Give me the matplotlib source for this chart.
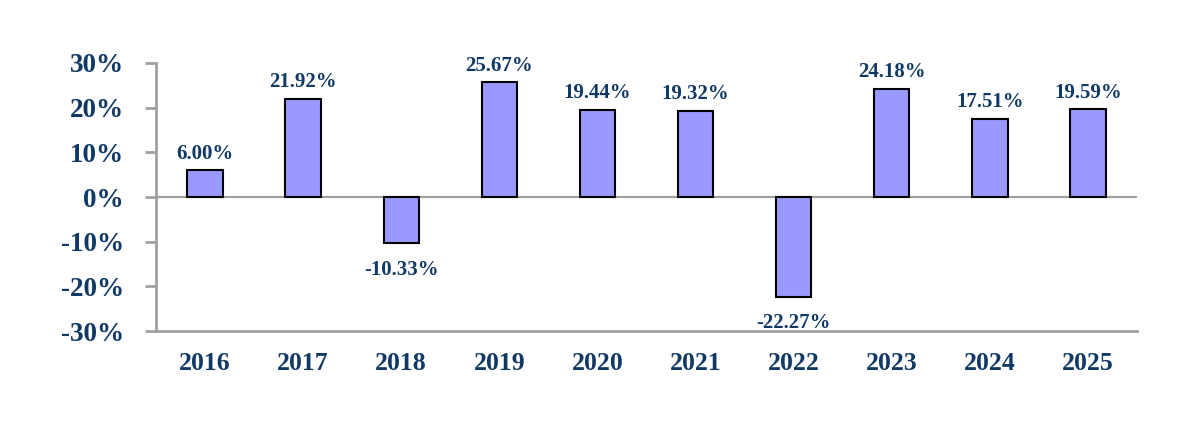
import matplotlib
matplotlib.use("Agg")
import matplotlib.pyplot as plt
from matplotlib.ticker import FuncFormatter

years = ["2016", "2017", "2018", "2019", "2020", "2021", "2022", "2023", "2024", "2025"]
returns = [6.00, 21.92, -10.33, 25.67, 19.44, 19.32, -22.27, 24.18, 17.51, 19.59]
yticks = [-30, -20, -10, 0, 10, 20, 30]

plt.rcParams['font.family'] = ['Liberation Serif', 'DejaVu Serif']
plt.rcParams['font.weight'] = 'bold'
navy = '#103A65'
gray = '#A0A0A0'

fig = plt.figure(figsize=(12, 4.42), dpi=100)
ax = fig.add_axes([0.13, 0.251, 0.8175, 0.6065])

x = list(range(len(years)))
ax.bar(x, returns, width=0.36, color='#9999FF', edgecolor='black', linewidth=1.5, zorder=3)
ax.axhline(0, color=gray, linewidth=1.5, zorder=2)

for xi, v in zip(x, returns):
    if v >= 0:
        ax.annotate(f"{v:.2f}%", (xi, v), xytext=(0, 12), textcoords='offset points',
                    ha='center', va='center', fontsize=15, fontweight='bold', color=navy)
    else:
        ax.annotate(f"{v:.2f}%", (xi, v), xytext=(0, -19), textcoords='offset points',
                    ha='center', va='center', fontsize=15, fontweight='bold', color=navy)

ax.set_xlim(-0.5, len(years) - 0.5)
ax.set_ylim(-30, 30)
ax.set_yticks(yticks)
ax.yaxis.set_major_formatter(FuncFormatter(lambda v, p: f"{int(v)}%"))
ax.set_xticks(x)
ax.set_xticklabels(years)

for s in ['top', 'right']:
    ax.spines[s].set_visible(False)
for s in ['left', 'bottom']:
    ax.spines[s].set_color(gray)
    ax.spines[s].set_linewidth(2)

ax.tick_params(axis='y', direction='out', length=8, width=2, color=gray, pad=15,
               labelsize=19.5, labelcolor=navy)
ax.tick_params(axis='x', length=0, pad=15, labelsize=18.5, labelcolor=navy)
for lbl in ax.get_xticklabels() + ax.get_yticklabels():
    lbl.set_fontweight('bold')

fig.savefig('out.png', dpi=100, facecolor='white')
